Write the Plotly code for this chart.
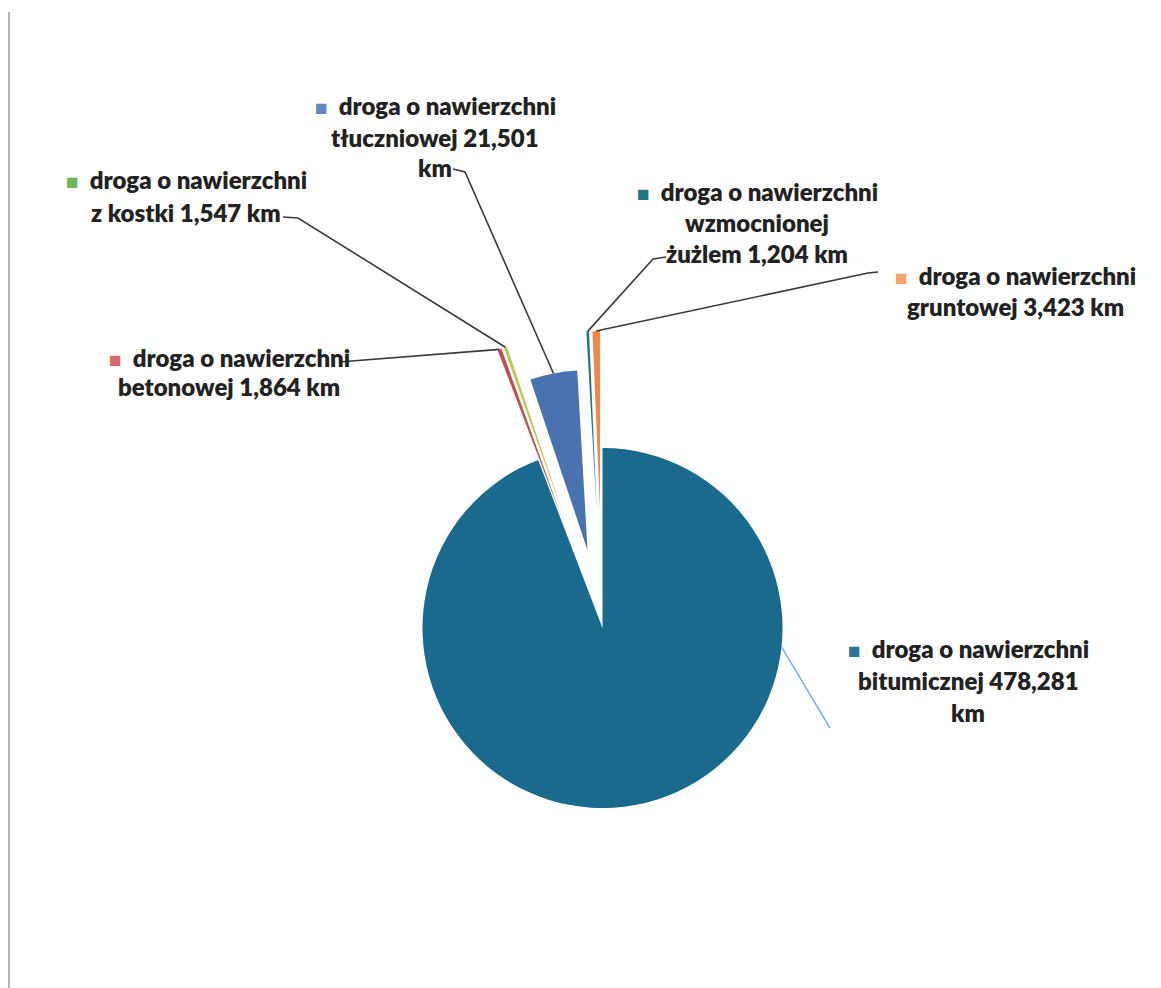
import math
import plotly.graph_objects as go

W, H = 1161, 988
OFF = 8  # default page margin in front of the figure

# ---- data ----
categories = [
    "droga o nawierzchni bitumicznej",
    "droga o nawierzchni betonowej",
    "droga o nawierzchni z kostki",
    "droga o nawierzchni tłuczniowej",
    "droga o nawierzchni wzmocnionej żużlem",
    "droga o nawierzchni gruntowej",
]
values_km = [478.281, 1.864, 1.547, 21.501, 1.204, 3.423]
label_lines = [
    ["droga o nawierzchni", "bitumicznej 478,281", "km"],
    ["droga o nawierzchni", "betonowej 1,864 km"],
    ["droga o nawierzchni", "z kostki 1,547 km"],
    ["droga o nawierzchni", "tłuczniowej 21,501", "km"],
    ["droga o nawierzchni", "wzmocnionej", "żużlem 1,204 km"],
    ["droga o nawierzchni", "gruntowej 3,423 km"],
]

# ---- style ----
slice_colors = ["#1a6a8e", "#c0504d", "#b8c860", "#4a72b0", "#1f7488", "#f0884a"]
key_colors = ["#2a7399", "#d96a6a", "#6ab85a", "#6286c0", "#1f7488", "#f7a06a"]
pulls = [0.0, 0.65, 0.65, 0.44, 0.65, 0.65]
text_color = "#222222"
FONT = "Lato"
FSIZE = 24
WEIGHT = 800

def px(x):
    return (x - OFF) / W

def py(y):
    return 1 - (y - OFF) / H

# pie box (screen pixels)
cx_px, cy_px = 602.5, 628.0
box_w, box_h = 700.0, 594.0
dom_x = [px(cx_px - box_w / 2), px(cx_px + box_w / 2)]
dom_y = [py(cy_px + box_h / 2), py(cy_px - box_h / 2)]
R = min(box_w, box_h) / 2 / (1 + max(pulls))

fig = go.Figure(go.Pie(
    labels=categories,
    values=values_km,
    sort=False,
    direction="clockwise",
    rotation=0,
    pull=pulls,
    marker=dict(colors=slice_colors, line=dict(width=0)),
    textinfo="none",
    hoverinfo="label+value",
    domain=dict(x=dom_x, y=dom_y),
    showlegend=False,
))

# geometry of slices computed from values
total = sum(values_km)
mids = []
acc = 0.0
for v in values_km:
    mids.append((acc + v / 2) / total * 360)
    acc += v

def slice_point(i, ang, rad_frac=1.0):
    m = math.radians(mids[i])
    ox = cx_px + pulls[i] * R * math.sin(m)
    oy = cy_px - pulls[i] * R * math.cos(m)
    a = math.radians(ang)
    return ox + R * rad_frac * math.sin(a), oy - R * rad_frac * math.cos(a)

# label blocks: (center x, first line y, line step)
blocks = {
    0: (968, 648, 32),
    1: (229, 357, 29),
    2: (186, 180, 32),
    3: (435, 106, 31),
    4: (757, 191, 31),
    5: (1015, 275, 31),
}
leader_starts = {
    1: [(339, 362)],
    2: [(283, 217), (298, 218)],
    3: [(453, 169), (465, 172)],
    4: [(666, 257), (653, 259)],
    5: [(878, 272), (868, 273)],
}

annotations = []
for i, lines in enumerate(label_lines):
    xc, y0, step = blocks[i]
    for k, t in enumerate(lines):
        txt = t
        if k == 0:
            txt = (f'<span style="color:{key_colors[i]};font-size:21px">■</span>'
                   f'&nbsp;&nbsp;{t}')
        annotations.append(dict(
            x=px(xc), y=py(y0 + k * step), xref="paper", yref="paper",
            text=txt, showarrow=False, xanchor="center", yanchor="middle",
            font=dict(family=FONT, size=FSIZE, color=text_color, weight=WEIGHT),
        ))

shapes = []
for i, pts in leader_starts.items():
    end = slice_point(i, mids[i])
    allp = pts + [end]
    path = "M " + " L ".join(f"{px(x):.5f},{py(y):.5f}" for x, y in allp)
    shapes.append(dict(type="path", path=path, xref="paper", yref="paper",
                       line=dict(color="#3a3a3a", width=1.6)))

# leader for the large slice (from its rim on the right side)
bx, by = slice_point(0, 96)
shapes.append(dict(type="line", xref="paper", yref="paper",
                   x0=px(bx), y0=py(by), x1=px(830), y1=py(728),
                   line=dict(color="#7eaed6", width=1.5)))

# scanned page edge on the left
shapes.append(dict(type="line", xref="paper", yref="paper",
                   x0=px(9), y0=py(12), x1=px(9), y1=py(990),
                   line=dict(color="#b5b5b5", width=2)))

fig.update_layout(
    width=W, height=H,
    margin=dict(l=0, r=0, t=0, b=0, autoexpand=False),
    paper_bgcolor="white",
    plot_bgcolor="white",
    annotations=annotations,
    shapes=shapes,
    showlegend=False,
)

fig.write_html("out.html")
